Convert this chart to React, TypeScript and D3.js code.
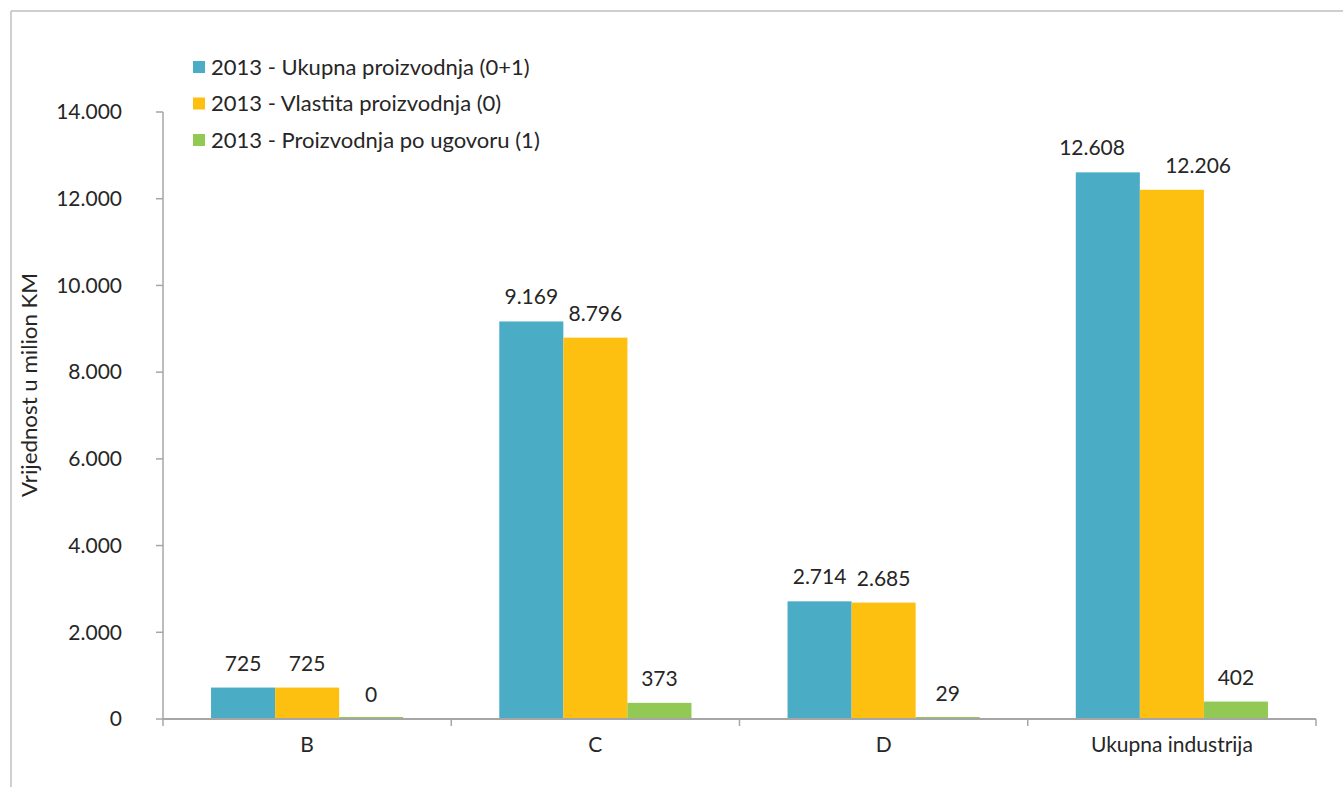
import React from "react";
import * as d3 from "d3";

const categories = ["B", "C", "D", "Ukupna industrija"];
const seriesNames = [
  "2013 - Ukupna proizvodnja (0+1)",
  "2013 - Vlastita proizvodnja (0)",
  "2013 - Proizvodnja po ugovoru (1)",
];
const ukupna = [725, 9169, 2714, 12608];
const vlastita = [725, 8796, 2685, 12206];
const ugovor = [0, 373, 29, 402];
const yTicks = [0, 2000, 4000, 6000, 8000, 10000, 12000, 14000];
const colors = ["#4BACC6", "#FDC010", "#92C955"];

const W = 1343;
const H = 787;
const FONT = "Lato, 'Open Sans', sans-serif";
const LABEL_FS = 21;

const fmt = (v: number) => {
  const s = String(Math.round(v));
  return s.replace(/\B(?=(\d{3})+(?!\d))/g, ".");
};

// rough width estimate of a label (digits ~0.55em, dot ~0.25em)
const estWidth = (s: string) =>
  s.split("").reduce((a, ch) => a + (ch === "." ? 0.25 : 0.55) * LABEL_FS, 0);

export default function App() {
  const series = [ukupna, vlastita, ugovor];
  const left = 163, right = 1316, top = 112, bottom = 719;
  const x0 = d3.scaleBand<string>().domain(categories).range([left, right]).paddingInner(0).paddingOuter(0);
  const x1 = d3
    .scaleBand<number>()
    .domain([0, 1, 2])
    .range([0, x0.bandwidth()])
    .paddingOuter(0.75)
    .paddingInner(0);
  const y = d3.scaleLinear().domain([0, 14000]).range([bottom, top]);
  const axisColor = "#A6A6A6";
  const textColor = "#262626";

  // label positions with simple overlap avoidance between neighbours
  const labelPos = categories.map((c, ci) => {
    const items = series.map((s, si) => {
      const v = s[ci];
      return {
        text: fmt(v),
        x: x1(si)! + x1.bandwidth() / 2,
        y: y(v) - 17,
      };
    });
    for (let i = 0; i < items.length - 1; i++) {
      const a = items[i], b = items[i + 1];
      if (Math.abs(a.y - b.y) < LABEL_FS * 1.2) {
        const need = (estWidth(a.text) + estWidth(b.text)) / 2 + 8;
        const dist = b.x - a.x;
        if (need > dist) {
          a.x -= LABEL_FS * 0.75;
          b.x += LABEL_FS * 1.25;
        }
      }
    }
    return items;
  });

  return (
    <svg width={W} height={H} style={{ position: "absolute", left: 0, top: 0 }} fontFamily={FONT}>
      <rect x={0} y={0} width={W} height={H} fill="#fff" />
      {/* frame */}
      <line x1={11} y1={11} x2={W} y2={11} stroke="#BFBFBF" strokeWidth={1.5} />
      <line x1={11} y1={11} x2={11} y2={H} stroke="#BFBFBF" strokeWidth={1.5} />

      {/* y axis */}
      <line x1={left} y1={top} x2={left} y2={bottom} stroke={axisColor} strokeWidth={1.5} />
      {yTicks.map((t) => (
        <g key={t}>
          <line x1={left - 7} x2={left} y1={y(t)} y2={y(t)} stroke={axisColor} strokeWidth={1.5} />
          <text x={122} y={y(t)} dy="0.35em" textAnchor="end" fontSize={21} fill={textColor}>
            {fmt(t)}
          </text>
        </g>
      ))}
      <text
        transform={`translate(37, 385) rotate(-90)`}
        textAnchor="middle"
        fontSize={21}
        textLength={224}
        lengthAdjust="spacingAndGlyphs"
        fill={textColor}
      >
        Vrijednost u milion KM
      </text>

      {/* bars */}
      {categories.map((c, ci) => (
        <g key={c} transform={`translate(${x0(c)},0)`}>
          {series.map((s, si) => {
            const v = s[ci];
            const h = Math.max(bottom - y(v), 2);
            const bx = x1(si)!;
            const lp = labelPos[ci][si];
            return (
              <g key={si}>
                <rect x={bx} y={bottom - h} width={x1.bandwidth()} height={h} fill={colors[si]} />
                <text x={lp.x} y={lp.y} textAnchor="middle" fontSize={LABEL_FS} fill={textColor}>
                  {lp.text}
                </text>
              </g>
            );
          })}
        </g>
      ))}

      {/* x axis */}
      <line x1={left} y1={bottom} x2={right} y2={bottom} stroke={axisColor} strokeWidth={2} />
      {d3.range(categories.length + 1).map((i) => {
        const xx = left + i * x0.step();
        return <line key={i} x1={xx} x2={xx} y1={bottom} y2={bottom + 7} stroke={axisColor} strokeWidth={1.5} />;
      })}
      {categories.map((c) => (
        <text key={c} x={x0(c)! + x0.bandwidth() / 2} y={752} textAnchor="middle" fontSize={21} fill={textColor}>
          {c}
        </text>
      ))}

      {/* legend */}
      {seriesNames.map((n, i) => {
        const cy = 67 + i * 36.5;
        return (
          <g key={n}>
            <rect x={193} y={cy - 6} width={12} height={12} fill={colors[i]} />
            <text x={211} y={cy} dy="0.35em" fontSize={22} fill={textColor}>
              {n}
            </text>
          </g>
        );
      })}
    </svg>
  );
}
